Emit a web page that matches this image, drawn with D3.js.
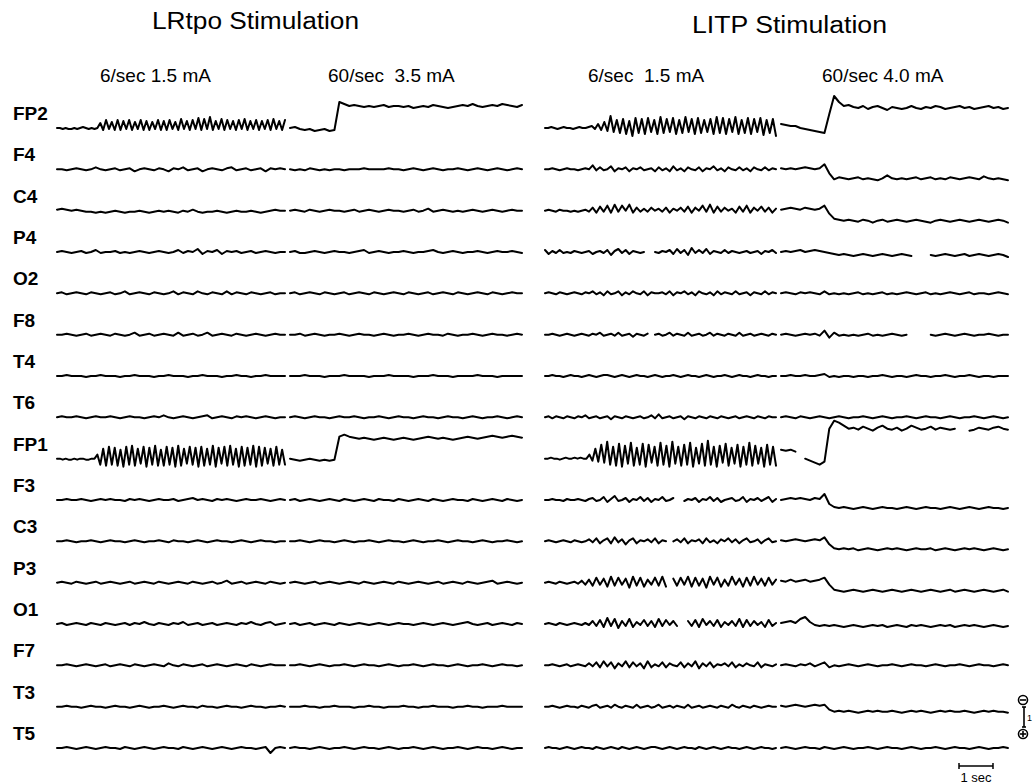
<!DOCTYPE html>
<html>
<head>
<meta charset="utf-8">
<script src="https://cdn.jsdelivr.net/npm/d3@7"></script>
<style>
  html, body { margin: 0; padding: 0; background: #fff; }
  text { font-family: "Liberation Sans", Arial, sans-serif; fill: #000; }
</style>
</head>
<body>
<div id="chart"></div>
<script>
// montage channels, top to bottom
const channels = ["FP2", "F4", "C4", "P4", "O2", "F8", "T4", "T6", "FP1", "F3", "C3", "P3", "O1", "F7", "T3", "T5"]

const titles = ["LRtpo Stimulation", "LITP Stimulation"]
const protocols = ["6/sec 1.5 mA", "60/sec  3.5 mA", "6/sec  1.5 mA", "60/sec 4.0 mA"]

// trace deflections (px, up = positive), null = pen lifted
const lrtpo6 = [
  [0,0,-1,0,-1,-1,0,-1,0,1,0,-1,0,-1,0,5,-2,8,-1,6,-2,8,-2,7,-1,8,-2,6,-1,8,-2,7,-2,6,-1,8,-2,7,-2,8,-1,6,-2,9,-1,7,-2,8,-1,10,-2,9,-1,11,-2,7,-1,9,-2,8,-1,7,-2,8,-1,9,-2,7,-1,8,-2,7,-1,8,-2,9,-1,7,-2,8],
  [0,0,-1,0,1,0,-1,0,2,0,-1,0,1,-1,0,1,-2,0,1,0,-1,1,0,-2,1,0,2,-1,0,1,-2,0,1,0,-1,1,2,-1,0,1,-1,0,1,-2,1,0,1,0],
  [1,2,1,0,1,0,-1,-1,-2,-1,-2,-1,0,-1,-2,-1,-1,0,-1,-2,-1,0,-1,0,-1,-2,0,-1,1,-1,-2,-1,-1,0,-1,-2,-1,0,-1,-1,0,-1,-2,-1,0,1,0,0],
  [0,1,0,-1,0,1,-1,0,2,-1,0,0,1,-1,0,-1,0,1,0,-1,0,1,0,-1,0,2,-1,1,0,3,-2,1,0,2,-2,1,0,1,-1,0,1,-1,0,1,0,-1,0,0],
  [0,1,-1,0,1,0,-1,1,0,-1,0,1,-1,0,2,-1,0,1,0,-1,1,0,-1,0,2,-1,1,0,-1,2,0,-1,1,0,-1,2,-1,1,0,-1,1,0,-1,0,1,-1,0,0],
  [0,0,1,0,-1,0,1,-1,0,1,0,-1,1,0,-1,0,2,-1,0,1,-1,0,1,0,-1,2,-1,0,1,-1,0,2,-1,0,1,0,-1,1,0,-1,0,1,0,-1,0,1,0,0],
  [0,0,1,0,0,0,-1,0,0,1,0,0,0,-1,0,0,1,0,0,0,-1,0,0,1,0,0,0,-1,0,0,1,0,0,0,-1,0,0,1,0,0,-1,0,0,1,0,0,0,0],
  [0,1,0,0,1,0,-1,0,1,0,0,1,0,-1,0,1,0,0,-1,0,1,0,2,0,-1,0,1,0,-1,0,1,2,-1,0,1,0,-1,1,0,1,0,-1,0,1,0,-1,0,0],
  [0,0,-1,0,-1,-1,0,-1,0,0,-1,-1,0,0,4,-6,10,-7,12,-6,11,-7,9,-8,12,-6,13,-7,10,-5,12,-8,11,-6,13,-7,9,-7,12,-6,11,-8,13,-7,10,-5,12,-6,11,-8,12,-7,10,-6,13,-8,11,-5,12,-7,13,-6,10,-8,12,-7,11,-6,13,-8,12,-7,11,-5,10,-7,12,-6,9,-6],
  [0,0,1,0,0,1,0,-1,0,1,0,1,0,0,-1,1,0,1,0,-1,0,1,0,0,1,-1,0,1,2,0,1,0,-1,1,0,1,0,-1,0,1,0,0,1,0,-1,0,1,0],
  [0,0,1,0,-1,0,0,1,0,-1,0,1,0,0,-1,0,1,0,-1,0,0,1,0,-1,1,0,0,-1,0,1,0,-1,0,1,0,0,-1,0,1,0,-1,0,1,0,0,-1,0,0],
  [0,1,0,-1,1,0,-1,0,1,-1,0,1,0,-1,0,1,-1,0,1,0,-1,1,0,-1,0,1,0,-1,1,0,-1,0,1,-1,0,2,-1,0,1,-1,0,1,0,-1,1,0,-1,0],
  [0,1,-1,0,1,0,-1,1,0,-1,1,0,-1,0,1,-1,1,0,2,0,-1,1,0,-1,1,0,2,-1,0,1,-1,0,1,-1,0,1,0,-1,1,0,2,0,-1,1,2,-1,0,1],
  [0,0,1,0,-1,0,1,0,-1,0,1,-1,0,1,0,-1,1,0,-1,0,1,0,-1,2,0,-1,1,0,-1,0,1,-1,0,1,0,-1,0,1,0,-1,1,0,-1,0,1,0,0,0],
  [0,0,1,0,0,-1,0,1,0,0,-1,0,1,0,0,-1,0,1,0,-1,0,0,1,0,-1,0,1,0,0,-1,1,0,0,-1,0,1,0,0,-1,0,1,0,0,-1,0,0,1,0],
  [0,0,1,0,-1,0,1,0,-1,0,1,0,0,-1,1,0,-1,0,1,0,-1,0,1,0,0,-1,1,0,-1,0,1,0,-1,0,1,0,-1,0,1,0,0,-1,0,1,-5,0,1,0]
]

const lrtpo60 = [
  [0,1,-1,-2,-1,-3,-2,-1,-3,-2,26,24,22,23,22,21,22,21,22,23,21,22,22,21,22,20,21,22,21,23,22,21,20,21,22,23,22,24,22,21,22,23,22,24,23,22,21,23],
  [0,-1,0,-1,1,0,-1,0,-1,0,0,-1,0,0,0,1,0,0,0,0,1,0,0,-1,0,1,0,-1,0,1,0,-1,0,0,1,0,-1,0,1,0,-1,0,1,0,-1,0,1,0],
  [0,1,0,-1,1,0,-1,0,1,0,0,-1,0,1,-1,0,1,0,-1,0,1,0,0,-1,0,1,-1,0,2,-1,0,1,0,-1,0,-1,0,1,0,-1,0,1,0,-1,0,1,0,0],
  [0,1,-1,-1,0,1,0,-1,0,1,0,0,-1,0,1,2,-1,0,1,0,-1,0,0,1,0,-1,0,0,1,2,0,-1,0,1,0,-1,0,0,1,0,-1,0,1,0,0,1,0,-1],
  [0,1,-1,0,1,0,-1,1,0,-1,0,1,-1,0,1,0,-1,1,0,-1,0,1,0,-1,1,0,-1,0,1,-1,0,1,0,-1,1,0,-1,0,1,0,-1,1,0,-1,0,1,0,0],
  [0,0,1,-1,0,1,0,-1,0,0,1,0,-1,0,1,0,0,-1,0,1,0,-1,0,0,1,0,-1,0,1,0,0,-1,1,0,-1,0,0,1,0,-1,0,1,0,0,-1,0,1,0],
  [0,0,0,1,0,0,0,-1,0,0,0,1,0,0,0,0,-1,0,0,0,1,0,0,0,0,-1,0,0,0,1,0,0,0,-1,0,0,0,0,1,0,0,0,-1,0,0,0,0,0],
  [0,1,0,-1,0,1,0,0,-1,0,1,0,0,1,0,-1,0,0,1,0,-1,0,1,0,0,-1,0,1,0,0,-1,0,1,0,0,-1,0,1,0,-1,0,0,1,0,-1,0,1,0],
  [0,-1,-2,-1,0,-1,-2,-1,-2,-1,22,24,22,21,20,21,20,19,20,21,20,19,20,21,20,19,20,21,22,21,20,21,20,19,20,21,22,21,20,21,22,23,22,21,22,23,22,21],
  [0,1,-1,0,1,0,-1,0,1,0,-1,1,0,-1,0,1,0,-1,1,0,0,-1,1,0,-1,0,1,0,-1,1,0,-1,0,1,0,0,-1,1,0,-1,0,1,0,-1,1,0,-1,0],
  [0,0,1,0,-1,0,1,0,0,-1,0,1,0,-1,0,0,1,0,-1,0,1,0,0,-1,0,1,0,-1,0,0,1,0,-1,0,1,0,0,-1,0,1,0,-1,0,0,1,0,-1,0],
  [0,1,0,-1,0,1,-1,0,1,0,-1,0,1,0,-1,1,0,-1,0,1,0,-1,1,0,-1,0,1,0,-1,0,1,-1,0,1,0,-1,1,0,-1,0,1,2,-1,0,1,0,-1,0],
  [0,1,-1,0,1,-1,0,1,0,-1,1,0,-1,0,1,0,-1,0,1,0,-1,0,1,0,0,-1,0,1,0,-1,0,1,0,-1,0,1,2,0,-1,0,1,-1,0,1,0,-1,1,0],
  [0,0,1,0,-1,0,1,0,-1,0,0,1,0,-1,0,1,0,0,-1,0,1,0,-1,0,0,1,0,-1,0,1,0,0,-1,0,1,0,-1,0,0,1,0,-1,0,1,0,0,-1,0],
  [0,0,0,1,0,0,-1,0,0,1,0,0,0,-1,0,0,1,0,0,-1,0,0,0,1,0,0,-1,0,0,1,0,0,0,-1,0,0,1,0,0,-1,0,0,0,1,0,0,0,0],
  [0,1,0,0,-1,0,1,0,-1,0,0,1,0,-1,0,1,0,0,-1,0,1,0,-1,0,0,1,0,-1,0,1,0,-1,0,0,1,0,-1,0,1,0,0,-1,0,1,0,-1,0,0]
]

const litp6 = [
  [0,0,1,0,-1,0,1,0,0,-1,0,1,0,0,1,2,-1,4,-2,6,-3,12,-4,8,-5,9,-6,7,-8,10,-5,9,-6,10,-4,8,-6,11,-5,9,-4,10,-6,8,-5,11,-4,9,-6,10,-5,8,-4,9,-6,11,-5,10,-6,9,-4,11,-6,8,-5,10,-6,9,-4,10,-7,8,-5,9,-8],
  [0,0,1,0,-1,0,1,0,0,-1,0,1,0,4,-1,2,-1,0,3,-2,1,0,2,-2,1,0,2,-1,0,1,-2,2,-1,1,-2,3,-1,1,-2,2,0,-1,2,-2,1,0,3,-1,1,-2,2,0,-1,2,-1,1,-2,2,0,-1,2,-1,1,0],
  [0,1,0,-1,1,0,0,-1,0,-1,0,1,-1,3,-2,4,-1,5,-2,6,-1,5,0,6,-2,3,-1,2,-1,3,0,2,-1,3,-2,2,0,3,-1,4,-2,3,0,5,-1,6,-2,4,-1,3,0,2,-2,4,-1,5,-2,3,0,4,-1,3,-2,2],
  [2,-2,1,-1,2,-1,0,-1,1,0,-1,0,1,-2,0,1,-1,2,-3,1,3,-1,2,-2,1,0,-1,0,null,null,0,-1,1,0,2,-2,3,-1,2,-3,4,-1,2,-1,3,-2,1,0,-1,2,-1,1,0,-1,0,1,-1,0,1,-2,1,0,2,-1],
  [0,1,0,-1,1,0,-1,0,1,0,-1,1,0,2,-1,1,-2,2,-1,0,2,-2,1,-1,2,0,-1,2,-2,1,0,0,1,-1,2,-2,1,0,2,-1,1,-2,2,0,-1,1,-2,2,-1,1,0,-1,2,-1,0,1,-2,1,0,-1,2,-1,1,0],
  [0,0,1,0,-1,0,1,0,-1,0,1,0,-1,1,0,2,-1,0,1,-1,2,-1,0,1,-2,1,0,-1,1,null,0,1,-1,0,2,-1,1,0,-1,2,-1,0,1,-1,0,2,-1,1,0,-1,1,0,-1,2,-1,0,1,-1,0,1,0,-1,1,0],
  [0,0,1,0,0,-1,0,1,0,0,-1,0,1,0,-1,0,1,1,0,-1,0,1,0,-1,0,1,0,0,-1,0,1,0,-1,0,0,1,0,-1,0,1,0,0,-1,0,1,0,-1,0,0,1,0,-1,0,1,0,0,-1,0,1,0,0,-1,0,0],
  [0,1,-1,1,0,-1,1,0,-1,1,0,2,-1,0,1,-1,0,1,-2,1,0,-1,1,0,-1,0,1,-1,0,2,-1,3,-1,0,1,-1,0,1,-2,1,0,-1,1,0,-1,1,0,-1,1,0,-1,0,1,-1,0,1,0,-1,1,0,-1,1,0,0],
  [0,0,1,0,0,-1,0,1,0,0,1,0,1,0,0,4,-2,10,-3,14,-4,17,-6,12,-7,15,-8,13,-5,16,-7,11,-6,15,-8,14,-4,12,-7,16,-6,13,-8,17,-5,12,-7,14,-6,16,-8,11,-5,15,-7,18,-6,12,-8,13,-4,15,-7,11,-5,14,-8,12,-6,16,-7,13,-5,11,-8,14,-6,12,-7],
  [0,0,1,0,0,-1,1,0,0,1,0,-1,1,2,-1,0,3,-2,1,4,-1,0,2,-2,1,0,3,-1,2,-2,1,0,3,-1,0,2,null,null,-1,1,0,2,-2,1,0,3,-1,2,-2,0,1,2,-1,0,3,-2,1,0,2,-1,1,3,-2,1],
  [0,1,0,-1,0,1,0,-1,1,0,-1,0,2,-1,3,-2,1,3,-2,4,-1,2,-3,1,3,-2,1,0,2,-1,3,-2,1,0,null,0,2,-1,3,-2,1,0,2,-2,3,-1,1,-2,2,0,3,-1,2,-2,1,3,-1,0,2,-2,1,3,-1,0],
  [0,1,0,-1,1,0,-1,0,1,-1,2,-2,3,-3,5,-2,4,-4,6,-3,5,-2,4,-5,6,-3,5,-4,3,-2,5,-3,6,-4,null,4,-3,5,-2,6,-4,5,-3,4,-5,6,-2,5,-4,3,-3,6,-2,4,-4,5,-3,6,-2,4,-3,5,-2,3],
  [0,1,0,-1,1,0,-1,0,1,0,-1,1,-1,3,-2,4,-3,6,-2,5,-4,3,-2,5,-3,2,-1,4,-2,3,-3,5,-2,4,-1,3,-2,null,null,3,-2,4,-3,5,-1,3,-2,4,-3,2,-1,3,-2,5,-3,4,-2,3,-1,2,-3,4,-2,1],
  [0,0,1,0,-1,0,1,-1,0,1,0,-1,2,-1,3,-2,4,-1,3,-3,2,-1,4,-2,3,-1,2,-3,4,-2,1,-1,3,-2,2,0,-1,3,-2,2,-1,4,-3,2,-1,3,-2,1,0,2,-1,3,-2,1,-1,2,0,-1,3,-2,1,0,-1,1],
  [0,0,1,0,-1,0,1,0,0,-1,1,0,-1,1,2,-1,0,1,-1,2,0,-1,1,0,-1,2,-1,0,1,-1,0,2,-1,0,1,-1,1,0,-1,2,-1,0,1,-1,0,1,0,-1,1,0,-1,2,0,-1,1,0,-1,1,0,-1,0,1,0,0],
  [0,1,0,0,-1,0,1,0,-1,0,1,0,0,-1,1,0,-1,0,1,0,-1,1,0,-1,0,1,0,-1,0,1,1,0,-1,0,1,0,-1,0,1,0,0,-1,1,0,-1,0,1,0,-1,0,1,0,0,-1,0,1,0,-1,0,1,0,0,-1,0]
]

const litp60 = [
  [4,3,2,2,0,-1,-2,-3,-4,-5,14,32,26,22,23,21,20,22,19,21,22,20,18,21,20,19,20,22,20,19,21,20,22,21,19,20,21,22,20,21,19,20,21,22,20,21,19,20],
  [1,0,1,0,1,2,1,0,1,5,-4,-10,-8,-9,-10,-9,-8,-10,-9,-10,-11,-9,-6,-9,-10,-9,-10,-9,-8,-10,-9,-8,-10,-9,-10,-8,-9,-10,-9,-8,-9,-10,-7,-9,-10,-9,-10,-11],
  [1,2,3,2,1,3,2,1,2,5,-3,-8,-9,-10,-9,-10,-11,-9,-10,-12,-10,-9,-11,-10,-9,-10,-11,-10,-9,-10,-11,-12,-10,-9,-10,-11,-10,-9,-10,-11,-10,-9,-10,-11,-10,-9,-10,-12],
  [0,1,0,1,2,0,1,2,1,0,-1,-2,-3,-2,-3,-4,-3,-2,-3,-4,-3,-2,-3,-4,-3,-2,-3,-4,null,null,null,-3,-4,-3,-2,-3,-4,-3,-2,-4,-3,-2,-3,-4,-3,-2,-3,-5],
  [0,1,0,-1,1,0,1,0,-1,2,-1,0,-1,0,-1,0,1,-1,0,-1,0,1,-1,0,-1,0,1,0,-1,0,1,-1,0,-1,0,1,0,-1,0,1,-1,0,0,-1,0,1,0,-1],
  [0,1,0,-1,0,1,0,1,-1,4,-3,2,-1,0,-1,0,-1,0,1,-1,0,-1,0,1,0,-1,0,null,null,null,null,0,-1,0,1,0,-1,0,1,0,-1,0,0,1,0,-1,0,0],
  [0,0,1,0,0,1,0,0,1,2,-1,0,-1,0,0,-1,0,0,-1,0,0,1,0,-1,0,0,-1,0,1,0,0,-1,0,0,1,0,-1,0,0,1,0,-1,0,0,-1,0,0,0],
  [0,1,0,-1,1,0,-1,0,1,0,-1,0,1,0,-1,0,0,1,0,-1,0,1,0,-1,0,0,1,0,-1,0,1,0,0,-1,0,1,0,-1,0,0,1,0,-1,0,1,0,-1,0],
  [9,8,9,7,null,0,-2,-4,-6,-3,30,38,36,33,30,31,29,32,30,28,31,33,30,29,31,28,30,33,31,29,30,32,29,31,30,29,30,null,null,28,29,31,30,29,31,32,30,29],
  [0,1,2,1,2,1,0,2,1,6,-4,-7,-8,-7,-8,-9,-8,-7,-8,-9,-8,-7,-8,-8,-9,-8,-7,-8,-9,-8,-7,-8,-8,-9,-8,-7,-8,-9,-8,-7,-8,-9,-8,-7,-8,-8,-9,-8],
  [1,0,1,2,1,0,1,2,1,4,-3,-7,-8,-7,-8,-7,-9,-8,-7,-8,-9,-8,-7,-8,-7,-8,-9,-8,-7,-8,-8,-7,-9,-8,-7,-8,-9,-8,-7,-8,-7,-8,-9,-8,-7,-8,-9,-8],
  [2,1,3,1,2,3,1,2,3,5,-2,-7,-8,-9,-8,-7,-8,-9,-8,-7,-8,-9,-8,-7,-8,-9,-8,-7,-8,-9,-8,-7,-8,-9,-8,-7,-9,-8,-7,-8,-9,-8,-7,-8,-9,-8,-7,-9],
  [1,2,3,1,5,7,2,-1,-2,-1,-2,-1,-2,-3,-2,-1,-2,-3,-2,-1,-2,-1,-3,-2,-1,-2,-3,-1,-2,-1,-2,-3,-2,-1,-2,-1,-3,-2,-1,-2,-1,-2,-3,-2,-1,-2,-3,-2],
  [0,1,0,-1,1,0,2,-1,1,3,-2,0,-1,0,1,0,-1,0,1,0,-1,0,0,1,0,-1,0,1,0,0,-1,0,1,0,-1,0,0,1,0,-1,0,1,0,0,-1,0,1,0],
  [1,0,1,2,1,0,1,2,1,2,-3,-5,-4,-5,-4,-5,-6,-5,-4,-5,-4,-5,-5,-4,-5,-6,-5,-4,-5,-4,-5,-6,-5,-4,-5,-4,-5,-5,-4,-5,-6,-5,-4,-5,-4,-5,-5,-6],
  [0,1,0,-1,0,1,0,0,-1,1,0,-1,0,1,0,-1,0,0,1,0,-1,0,1,0,0,-1,0,1,0,-1,0,0,1,0,-1,0,1,0,0,-1,0,1,0,-1,0,0,1,0]
]

const width = 1033
const height = 784

const svg = d3.select('#chart')
  .append('svg')
  .attr('width', width)
  .attr('height', height)
  .style('display', 'block')

// one row per channel, one px of pen deflection per unit
const baseY = d3.scalePoint().domain(channels).range([128, 748])
const amp = d3.scaleLinear().domain([-1, 1]).range([1, -1])

const segments = [
  { data: lrtpo6, x0: 57, x1: 285 },
  { data: lrtpo60, x0: 290, x1: 522 },
  { data: litp6, x0: 545, x1: 776 },
  { data: litp60, x0: 781, x1: 1008 }
]

const traces = svg.append('g').attr('class', 'traces')

segments.forEach((seg) => {
  seg.data.forEach((trace, ci) => {
    const x = d3.scaleLinear().domain([0, trace.length - 1]).range([seg.x0, seg.x1])
    const y0 = baseY(channels[ci])
    const line = d3.line()
      .defined(d => d !== null)
      .x((d, i) => x(i))
      .y(d => y0 + amp(d))
    traces.append('path')
      .datum(trace)
      .attr('d', line)
      .attr('fill', 'none')
      .attr('stroke', '#000')
      .attr('stroke-width', 2)
      .attr('stroke-linejoin', 'round')
      .attr('stroke-linecap', 'round')
  })
})

// channel labels
svg.selectAll('.chan')
  .data(channels)
  .join('text')
  .attr('class', 'chan')
  .attr('x', 13)
  .attr('y', d => baseY(d) - 8)
  .style('font-weight', 'bold')
  .style('font-size', '19px')
  .text(d => d)

// panel titles
svg.selectAll('.title')
  .data(titles)
  .join('text')
  .attr('class', 'title')
  .attr('x', (d, i) => [152, 692][i])
  .attr('y', (d, i) => [29, 33][i])
  .attr('textLength', (d, i) => [207, 195][i])
  .attr('lengthAdjust', 'spacingAndGlyphs')
  .style('font-size', '23px')
  .text(d => d)

// stimulation settings over each segment
svg.selectAll('.proto')
  .data(protocols)
  .join('text')
  .attr('class', 'proto')
  .attr('x', (d, i) => [100, 328, 588, 822][i])
  .attr('y', 82)
  .style('font-size', '19px')
  .style('white-space', 'pre')
  .text(d => d)

// time bar
const bar = svg.append('g').attr('stroke', '#000').attr('stroke-width', 1.5)
bar.append('line').attr('x1', 959).attr('x2', 993).attr('y1', 766).attr('y2', 766)
bar.append('line').attr('x1', 959).attr('x2', 959).attr('y1', 763).attr('y2', 769)
bar.append('line').attr('x1', 993).attr('x2', 993).attr('y1', 763).attr('y2', 769)
svg.append('text')
  .attr('x', 976)
  .attr('y', 782)
  .attr('text-anchor', 'middle')
  .style('font-size', '13px')
  .text('1 sec')

// polarity marker
const pol = svg.append('g').attr('stroke', '#000').attr('stroke-width', 1.6).attr('fill', 'none')
pol.append('circle').attr('cx', 1023).attr('cy', 700).attr('r', 4.5)
pol.append('line').attr('x1', 1020).attr('x2', 1026).attr('y1', 700).attr('y2', 700)
pol.append('line').attr('x1', 1024).attr('x2', 1024).attr('y1', 707).attr('y2', 727)
pol.append('line').attr('x1', 1022).attr('x2', 1026).attr('y1', 707).attr('y2', 707)
pol.append('line').attr('x1', 1022).attr('x2', 1026).attr('y1', 727).attr('y2', 727)
pol.append('circle').attr('cx', 1023).attr('cy', 734).attr('r', 4.5)
pol.append('line').attr('x1', 1020).attr('x2', 1026).attr('y1', 734).attr('y2', 734)
pol.append('line').attr('x1', 1023).attr('x2', 1023).attr('y1', 731).attr('y2', 737)
svg.append('text')
  .attr('x', 1027)
  .attr('y', 721)
  .style('font-size', '9px')
  .text('1')
</script>
</body>
</html>
